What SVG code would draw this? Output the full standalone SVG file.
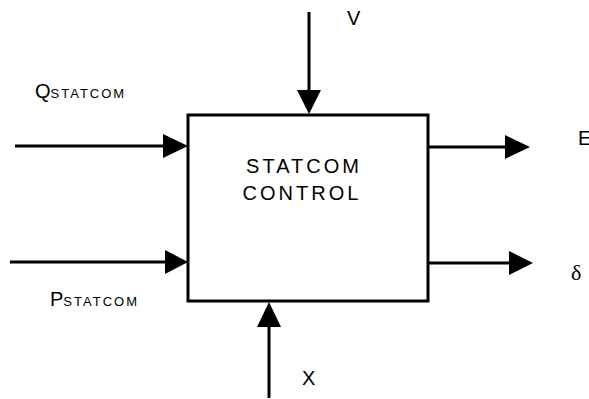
<svg xmlns="http://www.w3.org/2000/svg" width="589" height="399" viewBox="0 0 589 399">
<style>
.ln{stroke:#000;stroke-width:3;fill:none}
.hd{fill:#000}
.t{font-family:"Liberation Sans",Arial,sans-serif;fill:#000;font-size:20px}
.s{font-size:13px;letter-spacing:2px}
.c{letter-spacing:3px}
.d{font-family:"Liberation Serif","Times New Roman",serif;fill:#000;font-size:22px}
</style>
<rect width="589" height="399" fill="#fff"/>
<g id="connectors">
<line class="ln" x1="309" y1="12" x2="309" y2="92"/>
<polygon class="hd" points="297,90 321,90 309,114"/>
<line class="ln" x1="15" y1="146" x2="166" y2="146"/>
<polygon class="hd" points="163,134 163,158 188,146"/>
<line class="ln" x1="10" y1="262" x2="168" y2="262"/>
<polygon class="hd" points="165,250 165,274 188,262"/>
<line class="ln" x1="428" y1="147" x2="508" y2="147"/>
<polygon class="hd" points="505,135 505,159 530,147"/>
<line class="ln" x1="428" y1="263" x2="512" y2="263"/>
<polygon class="hd" points="509,251 509,275 533,263"/>
<line class="ln" x1="269" y1="398" x2="269" y2="325"/>
<polygon class="hd" points="257,327 281,327 269,302"/>
</g>
<g id="statcom-control">
<rect class="ln" x="188" y="115" width="240" height="186"/>
<text class="t c" x="304" y="173" text-anchor="middle">STATCOM</text>
<text class="t c" x="302" y="200" text-anchor="middle">CONTROL</text>
</g>
<g id="label-v"><text class="t" x="347" y="25">V</text></g>
<g id="label-q"><text class="t" x="35" y="98">Q<tspan class="s">STATCOM</tspan></text></g>
<g id="label-p"><text class="t" x="50" y="306">P<tspan class="s">STATCOM</tspan></text></g>
<g id="label-e"><text class="t" x="578" y="145">E</text></g>
<g id="label-delta"><text class="d" x="571" y="280">δ</text></g>
<g id="label-x"><text class="t" x="302" y="385">X</text></g>
</svg>
